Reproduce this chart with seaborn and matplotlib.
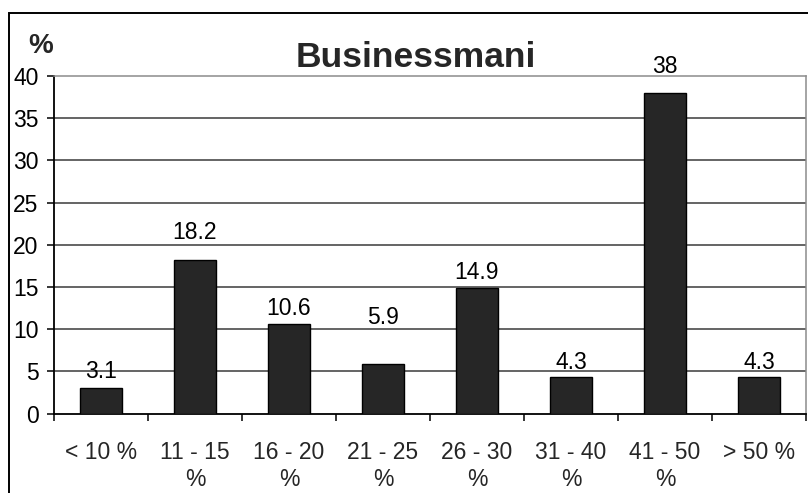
import matplotlib
matplotlib.use("Agg")
import matplotlib.pyplot as plt
import seaborn as sns
import pandas as pd
from matplotlib.patches import Rectangle

# data
categories = ["< 10 %", "11 - 15\n%", "16 - 20\n%", "21 - 25\n%",
              "26 - 30\n%", "31 - 40\n%", "41 - 50\n%", "> 50 %"]
values = [3.1, 18.2, 10.6, 5.9, 14.9, 4.3, 38, 4.3]
value_labels = ["3.1", "18.2", "10.6", "5.9", "14.9", "4.3", "38", "4.3"]
y_ticks = [0, 5, 10, 15, 20, 25, 30, 35, 40]

# label gaps above each bar (points), as placed in the original
label_gap = [7, 15, 6.5, 29, 6.5, 6, 14, 6]

df = pd.DataFrame({"Category": categories, "Percent": values})

sns.set_style("white")
plt.rcParams["font.family"] = ["Liberation Sans", "DejaVu Sans"]

fig = plt.figure(figsize=(8.08, 4.93), dpi=100)
ax = fig.add_axes([54 / 808, 79.3 / 493, 752 / 808, 337.7 / 493])

sns.barplot(data=df, x="Category", y="Percent", color="#262626",
            saturation=1, width=0.44, edgecolor="black", linewidth=1,
            ax=ax, zorder=3)

ax.set_ylim(0, 40)
ax.set_xlim(-0.5, len(categories) - 0.5)
ax.set_yticks(y_ticks)
ax.set_xlabel("")
ax.set_ylabel("")

# gridlines
for t in y_ticks[1:-1]:
    ax.axhline(t, color="#3a3a3a", lw=1.1, zorder=1)

for side in ["left", "bottom"]:
    ax.spines[side].set_color("black")
    ax.spines[side].set_linewidth(1.3)
for side in ["top", "right"]:
    ax.spines[side].set_visible(True)
    ax.spines[side].set_color("#8c8c8c")
    ax.spines[side].set_linewidth(1.1)

ax.tick_params(axis="y", direction="out", length=5, width=1.1, pad=6,
               labelsize=16.5, left=True, colors="black")
ax.tick_params(axis="x", which="major", length=0, pad=20, labelsize=16.5)
ax.set_xticks(range(len(categories)))
ax.set_xticklabels(categories, linespacing=1.2, va="top")
ax.set_xticks([i - 0.5 for i in range(len(categories) + 1)], minor=True)
ax.tick_params(axis="x", which="minor", direction="out", length=5,
               width=1.1, bottom=True, color="black")

for i, (v, lab) in enumerate(zip(values, value_labels)):
    ax.annotate(lab, (i, v), xytext=(0, label_gap[i]),
                textcoords="offset points", ha="center", va="baseline",
                fontsize=16.5, color="black", annotation_clip=False)

fig.text(416 / 808, 1 - 67.3 / 493, "Businessmani", ha="center",
         va="baseline", fontsize=25.5, fontweight="bold")
fig.text(28 / 808, 1 - 53 / 493, "%", ha="left", va="baseline",
         fontsize=20, fontweight="bold")

# outer chart border
fig.patches.append(Rectangle((9 / 808, -0.05), 1.2, 1 - 13 / 493 + 0.05,
                             transform=fig.transFigure, fill=False,
                             edgecolor="black", linewidth=1.4))

fig.savefig("out.png", dpi=100)
